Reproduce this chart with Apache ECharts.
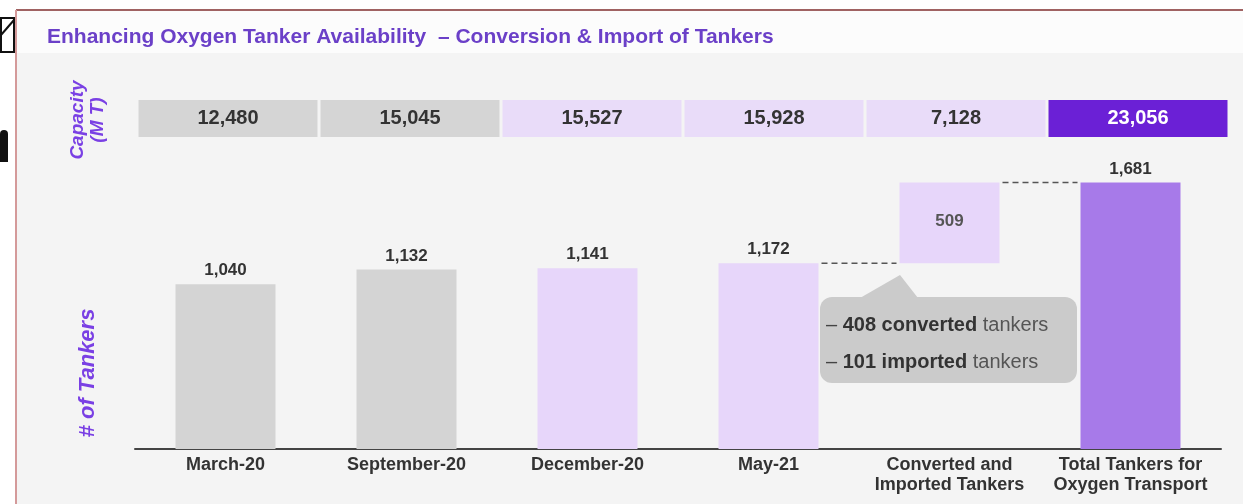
<!DOCTYPE html>
<html><head><meta charset="utf-8">
<script src="https://cdn.jsdelivr.net/npm/echarts@6/dist/echarts.min.js"></script>
<style>html,body{margin:0;padding:0;background:#fff}#c{width:1243px;height:504px}</style>
</head><body><div id="c"></div>
<script>
const categories = ['March-20', 'September-20', 'December-20', 'May-21', 'Converted and\nImported Tankers', 'Total Tankers for\nOxygen Transport'];
const tankers = [1040, 1132, 1141, 1172, 509, 1681];
const waterfallBase = [0, 0, 0, 0, 1172, 0];
const capacityMT = [12480, 15045, 15527, 15928, 7128, 23056];
const connectors = [[3, 1172], [4, 1681]];
const barColors = ['#d4d4d4', '#d4d4d4', '#e7d6fa', '#e7d6fa', '#e7d6fa', '#a77ae9'];
const capColors = ['#d5d5d5', '#d5d5d5', '#e9dcf9', '#e9dcf9', '#e9dcf9', '#6b20d6'];
const capTextColors = ['#333', '#333', '#333', '#333', '#333', '#ffffff'];

const FONT = "'Liberation Sans', Arial, sans-serif";
const fmt = v => v.toLocaleString('en-US');
const BAR_W = 100;

const chart = echarts.init(document.getElementById('c'), null, {renderer: 'canvas'});

const option = {
  backgroundColor: '#ffffff',
  animation: false,
  textStyle: {fontFamily: FONT},
  grid: [
    {left: 135, right: 22, top: 151, bottom: 55},
    {left: 137, right: 14, top: 100, height: 37}
  ],
  xAxis: [
    {
      type: 'category', gridIndex: 0, data: categories,
      axisLine: {lineStyle: {color: '#444', width: 2}},
      axisTick: {show: false},
      axisLabel: {color: '#333', fontSize: 18, fontWeight: 'bold', fontFamily: FONT, margin: 6, lineHeight: 20, interval: 0}
    },
    {type: 'category', gridIndex: 1, data: categories, show: false}
  ],
  yAxis: [
    {type: 'value', gridIndex: 0, min: 0, max: 1880, show: false},
    {type: 'value', gridIndex: 1, min: 0, max: 1, show: false}
  ],
  series: [
    {
      type: 'bar', name: 'base', stack: 'w', xAxisIndex: 0, yAxisIndex: 0,
      barWidth: BAR_W, silent: true,
      itemStyle: {color: 'transparent'},
      data: waterfallBase
    },
    {
      type: 'bar', name: 'tankers', stack: 'w', xAxisIndex: 0, yAxisIndex: 0,
      barWidth: BAR_W,
      data: tankers.map((v, i) => ({
        value: v,
        itemStyle: {color: barColors[i]},
        label: i === 4
          ? {show: true, position: 'inside', color: '#555', fontSize: 17, fontWeight: 'bold', offset: [0, -2]}
          : {show: true, position: 'top', color: '#333', fontSize: 17, fontWeight: 'bold', distance: 5}
      })),
      label: {formatter: p => fmt(p.value), fontFamily: FONT}
    },
    {
      type: 'custom', name: 'connectors', xAxisIndex: 0, yAxisIndex: 0,
      encode: {x: 0, y: 1}, z: 5, silent: true,
      data: connectors,
      renderItem: (params, api) => {
        const a = api.coord([api.value(0), api.value(1)]);
        const b = api.coord([api.value(0) + 1, api.value(1)]);
        return {
          type: 'line',
          shape: {x1: a[0] + BAR_W / 2 + 3, y1: a[1], x2: b[0] - BAR_W / 2 - 3, y2: b[1]},
          style: {stroke: '#555', lineWidth: 1.5, lineDash: [6, 4]}
        };
      }
    },
    {
      type: 'bar', name: 'capacity', xAxisIndex: 1, yAxisIndex: 1,
      barWidth: 179, silent: true,
      data: capacityMT.map((v, i) => ({
        value: 1,
        itemStyle: {color: capColors[i]},
        label: {color: capTextColors[i]}
      })),
      label: {
        show: true, position: 'inside', fontSize: 20, fontWeight: 'bold', fontFamily: FONT,
        formatter: p => fmt(capacityMT[p.dataIndex])
      }
    }
  ],
  graphic: [
    {type: 'rect', z: -10, shape: {x: 17, y: 11, width: 1226, height: 493}, style: {fill: '#f4f4f4'}},
    {type: 'rect', z: -9, shape: {x: 17, y: 11, width: 1226, height: 42}, style: {fill: '#fcfcfc'}},
    {type: 'line', z: -8, shape: {x1: 16, y1: 10, x2: 1243, y2: 10}, style: {stroke: '#a06262', lineWidth: 2}},
    {type: 'line', z: -8, shape: {x1: 16, y1: 10, x2: 16, y2: 504}, style: {stroke: '#d49a9a', lineWidth: 2}},
    {type: 'rect', z: 10, shape: {x: 1, y: 18, width: 13, height: 34}, style: {fill: '#fff', stroke: '#111', lineWidth: 2}},
    {type: 'line', z: 10, shape: {x1: 1, y1: 35, x2: 14, y2: 20}, style: {stroke: '#111', lineWidth: 2}},
    {type: 'rect', z: 10, shape: {x: 0, y: 130, width: 8, height: 32, r: [6, 6, 0, 0]}, style: {fill: '#111'}},
    {
      type: 'text', z: 10, x: 47, y: 37,
      style: {
        text: 'Enhancing Oxygen Tanker Availability  \u2013 Conversion & Import of Tankers',
        fill: '#6b40c8', font: "bold 21px 'Liberation Sans', Arial, sans-serif",
        verticalAlign: 'middle', textVerticalAlign: 'middle'
      }
    },
    {
      type: 'text', z: 10, x: 88, y: 120, rotation: Math.PI / 2,
      style: {
        text: 'Capacity\n(M T)', fill: '#7a40e4', font: "italic bold 19px 'Liberation Sans', Arial, sans-serif",
        align: 'center', verticalAlign: 'middle', textAlign: 'center', textVerticalAlign: 'middle', lineHeight: 20
      }
    },
    {
      type: 'text', z: 10, x: 88, y: 373, rotation: Math.PI / 2,
      style: {
        text: '# of Tankers', fill: '#7a40e4', font: "italic bold 22px 'Liberation Sans', Arial, sans-serif",
        align: 'center', verticalAlign: 'middle', textAlign: 'center', textVerticalAlign: 'middle'
      }
    },
    {type: 'rect', z: 10, shape: {x: 820, y: 297, width: 257, height: 86, r: 12}, style: {fill: '#cbcbcb'}},
    {type: 'polygon', z: 10, shape: {points: [[860, 298], [900, 275], [918, 298]]}, style: {fill: '#cbcbcb'}},
    {
      type: 'text', z: 11, x: 826, y: 325,
      style: {
        text: '{d|\u2013 }{b|408 converted}{n| tankers}',
        verticalAlign: 'middle', textVerticalAlign: 'middle',
        rich: {
          d: {fill: '#444', font: "20px 'Liberation Sans', Arial, sans-serif"},
          b: {fill: '#333', font: "bold 20px 'Liberation Sans', Arial, sans-serif"},
          n: {fill: '#555', font: "20px 'Liberation Sans', Arial, sans-serif"}
        }
      }
    },
    {
      type: 'text', z: 11, x: 826, y: 362,
      style: {
        text: '{d|\u2013 }{b|101 imported}{n| tankers}',
        verticalAlign: 'middle', textVerticalAlign: 'middle',
        rich: {
          d: {fill: '#444', font: "20px 'Liberation Sans', Arial, sans-serif"},
          b: {fill: '#333', font: "bold 20px 'Liberation Sans', Arial, sans-serif"},
          n: {fill: '#555', font: "20px 'Liberation Sans', Arial, sans-serif"}
        }
      }
    }
  ]
};
chart.setOption(option);
</script>
</body></html>
